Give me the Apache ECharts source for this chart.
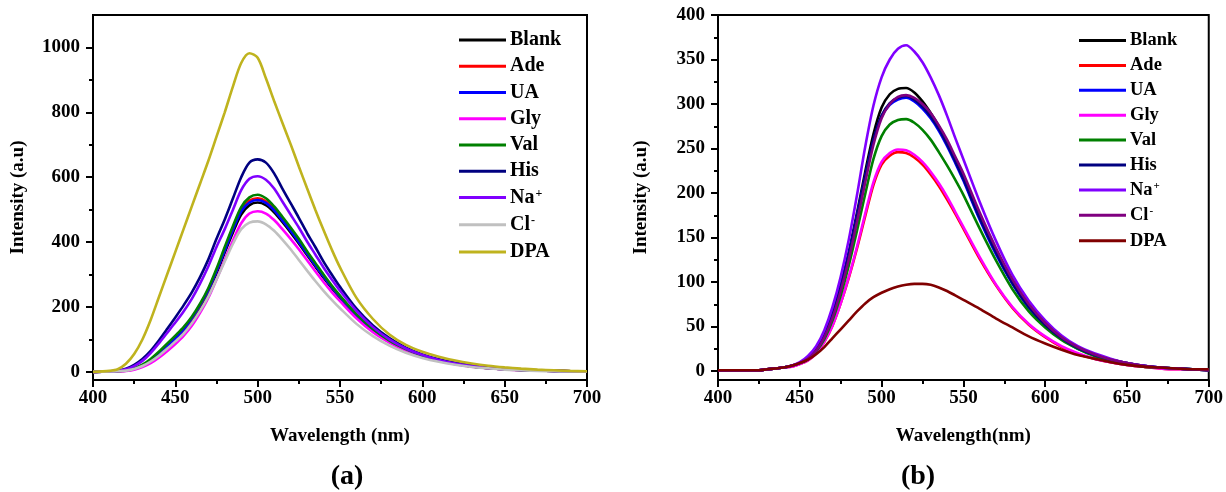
<!DOCTYPE html>
<html>
<head>
<meta charset="utf-8">
<script src="https://cdn.jsdelivr.net/npm/echarts@6/dist/echarts.min.js"></script>
<style>
html,body{margin:0;padding:0;background:#fff;}
#chart{width:1226px;height:492px;}
</style>
</head>
<body>
<div id="chart"></div>
<script>
// Wavelength grid (nm)
const WL = [400,410,415,420,425,430,435,440,445,450,455,460,465,470,475,480,485,490,495,500,505,510,515,520,525,530,535,540,545,550,560,570,580,590,600,610,620,630,640,650,660,670,680,690,700];

// Panel (a) intensities
const A_BLANK = [0,1,2,4,9,18,32,50,72,96,122,155,196,245,303,368,430,485,514,522,514,492,462,430,396,360,325,290,258,228,173,128,94,68,49,35,25,17,12,8,5,4,3,2,1];
const A_ADE   = [0,1,2,5,10,20,35,55,78,103,130,164,205,252,312,378,442,500,528,535,526,502,470,438,403,366,330,295,262,232,176,130,95,69,49,35,25,17,12,8,5,4,3,2,1];
const A_UA    = [0,1,2,5,10,20,35,55,78,103,130,165,206,252,310,374,438,495,522,530,521,498,467,435,400,364,329,294,261,231,175,130,95,69,49,35,25,17,12,8,5,4,3,2,1];
const A_GLY   = [0,1,1,3,7,15,27,44,64,86,111,142,182,228,285,345,405,458,488,495,488,468,440,410,378,344,310,277,246,218,165,122,90,65,47,34,24,16,11,8,5,4,3,2,1];
const A_VAL   = [0,1,2,5,11,22,40,62,87,112,138,170,210,258,318,385,450,508,538,546,535,510,478,445,410,372,336,300,266,235,178,132,96,70,50,36,25,17,12,8,5,4,3,2,1];
const A_HIS   = [0,2,4,10,22,40,65,97,132,168,205,245,292,346,410,470,535,600,645,655,645,612,565,520,475,428,385,340,300,262,195,143,104,75,54,39,28,20,14,10,7,5,3,2,1];
const A_NA    = [0,1,3,8,18,34,58,88,120,152,186,225,272,325,385,440,500,560,595,603,592,565,525,485,445,402,362,322,285,250,188,138,100,72,52,37,26,18,12,8,6,4,3,2,1];
const A_CL    = [0,1,2,4,9,18,32,50,71,94,118,150,188,232,285,340,395,440,460,464,455,435,408,378,345,312,280,250,222,196,148,110,81,59,43,31,22,15,11,7,5,3,2,1,1];
const A_DPA   = [0,3,8,25,55,100,160,230,300,370,440,510,580,650,725,800,880,952,982,968,905,835,768,702,633,566,500,437,377,322,228,163,115,83,62,47,35,26,19,14,10,7,5,3,2];

// Panel (b) intensities
const B_BLANK = [1,1,1,1,1,2,3,4,6,9,14,24,40,64,96,134,178,224,266,296,311,317,318,313,303,290,275,257,237,216,172,133,99,72,52,37,26,19,13,9,6,4,3,2,1];
const B_ADE   = [1,1,1,1,1,2,3,4,5,8,12,20,33,51,76,105,138,174,209,232,242,246,245,240,232,221,208,193,177,160,126,96,71,52,38,27,19,14,10,7,5,3,2,2,1];
const B_UA    = [1,1,1,1,1,2,3,4,6,9,14,24,40,63,94,132,175,219,259,286,299,305,307,303,295,284,270,253,234,214,170,131,98,71,51,36,25,18,12,8,6,4,3,2,1];
const B_GLY   = [1,1,1,1,1,2,3,4,5,8,12,20,33,51,76,106,140,177,212,235,245,249,248,243,235,224,211,196,179,162,128,97,72,53,39,28,20,14,10,7,5,3,2,2,1];
const B_VAL   = [1,1,1,1,1,2,3,4,6,9,13,22,36,57,85,119,158,199,238,264,277,282,283,279,271,260,246,231,215,198,160,124,92,67,49,35,25,17,12,8,5,4,3,2,1];
const B_HIS   = [1,1,1,1,1,2,3,4,6,9,14,24,40,63,94,131,174,218,259,287,301,307,309,305,297,286,272,255,236,216,172,133,99,72,52,37,26,18,13,9,6,4,3,2,1];
const B_NA    = [1,1,1,1,1,2,3,4,6,10,17,28,46,72,106,148,198,252,298,330,350,362,366,359,347,330,310,287,262,238,190,146,108,79,57,40,28,20,14,9,6,4,3,2,2];
const B_CL    = [1,1,1,1,1,2,3,4,6,9,14,23,38,60,90,126,168,212,254,284,300,308,310,307,300,290,276,260,241,222,178,138,103,75,54,38,27,19,13,9,6,4,3,2,1];
const B_DPA   = [1,1,1,1,1,2,3,4,6,9,13,19,27,37,47,57,67,76,83,88,92,95,97,98,98,97,94,90,85,80,70,59,49,39,31,24,18,14,10,7,5,4,3,2,2];

const NAMES = ['Blank','Ade','UA','Gly','Val','His','Na+','Cl-','DPA'];
const A_DATA = [A_BLANK,A_ADE,A_UA,A_GLY,A_VAL,A_HIS,A_NA,A_CL,A_DPA];
const B_DATA = [B_BLANK,B_ADE,B_UA,B_GLY,B_VAL,B_HIS,B_NA,B_CL,B_DPA];
const A_COLORS = ['#000000','#FF0000','#0000FF','#FF00FF','#008000','#000080','#8000FF','#C0C0C0','#BFB31E'];
const B_COLORS = ['#000000','#FF0000','#0000FF','#FF00FF','#008000','#000080','#8000FF','#800080','#800000'];

const A_YTICKS = [0,200,400,600,800,1000];
const A_YMINOR = [100,300,500,700,900];
const B_YTICKS = [0,50,100,150,200,250,300,350,400];
const B_YMINOR = [25,75,125,175,225,275,325,375];

const FONT = "'Liberation Serif','Times New Roman',serif";

function mkSeries(prefix, data, colors, gi){
  return NAMES.map((n,i)=>({
    name: prefix + n,
    type:'line',
    xAxisIndex: gi,
    yAxisIndex: gi*2,
    data: WL.map((w,k)=>[w, data[i][k]]),
    showSymbol:false, symbol:'none',
    smooth:0.3,
    lineStyle:{color:colors[i], width:2.6},
    itemStyle:{color:colors[i]},
    animation:false,
    z: 2+i
  }));
}

function fmtLegend(name){
  const n = name.slice(2);
  if (n==='Na+') return 'Na{s|+}';
  if (n==='Cl-') return 'Cl{s|-}';
  return n;
}

function xAxisCfg(gi){
  return {
    type:'value', gridIndex:gi, min:400, max:700, interval:50,
    name: gi===0 ? 'Wavelength (nm)' : 'Wavelength(nm)',
    nameLocation:'middle', nameGap:47,
    nameTextStyle:{fontFamily:FONT, fontWeight:'bold', fontSize:19, color:'#000'},
    axisLine:{show:true, onZero:false, lineStyle:{color:'#000', width:2}},
    axisTick:{show:true, inside:false, length:7, lineStyle:{color:'#000', width:2}},
    minorTick:{show:true, splitNumber:2, length:4, lineStyle:{color:'#000', width:2}},
    axisLabel:{fontFamily:FONT, fontWeight:'bold', fontSize:19, color:'#000', margin:9, formatter:v=>String(v)},
    splitLine:{show:false}, minorSplitLine:{show:false}
  };
}

function yAxisMain(gi, min, max, ticks, gap){
  return {
    type:'value', gridIndex:gi, min:min, max:max,
    name:'Intensity (a.u)', nameLocation:'middle', nameGap:gap,
    nameTextStyle:{fontFamily:FONT, fontWeight:'bold', fontSize:19, color:'#000'},
    axisLine:{show:true, onZero:false, lineStyle:{color:'#000', width:2}},
    axisTick:{show:true, inside:false, length:7, customValues:ticks, lineStyle:{color:'#000', width:2}},
    axisLabel:{fontFamily:FONT, fontWeight:'bold', fontSize:19, color:'#000', margin:13, customValues:ticks, formatter:v=>String(v)},
    splitLine:{show:false}
  };
}
function yAxisMinor(gi, min, max, ticks){
  return {
    type:'value', gridIndex:gi, min:min, max:max, position:'left',
    axisLine:{show:false},
    axisTick:{show:true, inside:false, length:4, customValues:ticks, lineStyle:{color:'#000', width:2}},
    axisLabel:{show:false},
    splitLine:{show:false}
  };
}

function legendCfg(prefix, left, top, fs, lh, gap){
  return {
    orient:'vertical', left:left, top:top, padding:0,
    data: NAMES.map(n=>prefix+n),
    icon:'rect', itemWidth:47, itemHeight:3, itemGap:gap,
    selectedMode:false,
    formatter: fmtLegend,
    textStyle:{fontFamily:FONT, fontWeight:'bold', fontSize:fs, lineHeight:lh, color:'#000', padding:[0,0,0,-1],
      rich:{s:{fontFamily:FONT, fontWeight:'bold', fontSize:Math.round(fs*0.6), lineHeight:lh, verticalAlign:'top', color:'#000', padding:[0,0,lh*0.45,1]}}}
  };
}

const chart = echarts.init(document.getElementById('chart'), null, {renderer:'canvas'});
chart.setOption({
  backgroundColor:'#fff',
  animation:false,
  grid:[
    {left:93, top:15, width:494, height:365, show:true, borderColor:'#000', borderWidth:2, backgroundColor:'transparent'},
    {left:718, top:15, width:491, height:365, show:true, borderColor:'#000', borderWidth:2, backgroundColor:'transparent'}
  ],
  xAxis:[xAxisCfg(0), xAxisCfg(1)],
  yAxis:[
    yAxisMain(0, -25, 1100, A_YTICKS, 65),
    yAxisMinor(0, -25, 1100, A_YMINOR),
    yAxisMain(1, -10, 400, B_YTICKS, 67),
    yAxisMinor(1, -10, 400, B_YMINOR)
  ],
  legend:[
    legendCfg('a|', 459, 30, 20, 20, 6.25),
    legendCfg('b|', 1079, 31, 18.5, 19, 5.9)
  ],
  graphic:[
    {type:'text', style:{text:'(a)', x:347, y:477, textAlign:'center', textVerticalAlign:'middle', font:"bold 28px 'Liberation Serif','Times New Roman',serif", fill:'#000'}},
    {type:'text', style:{text:'(b)', x:918, y:477, textAlign:'center', textVerticalAlign:'middle', font:"bold 28px 'Liberation Serif','Times New Roman',serif", fill:'#000'}}
  ],
  series: mkSeries('a|', A_DATA, A_COLORS, 0).concat(mkSeries('b|', B_DATA, B_COLORS, 1))
});
</script>
</body>
</html>
